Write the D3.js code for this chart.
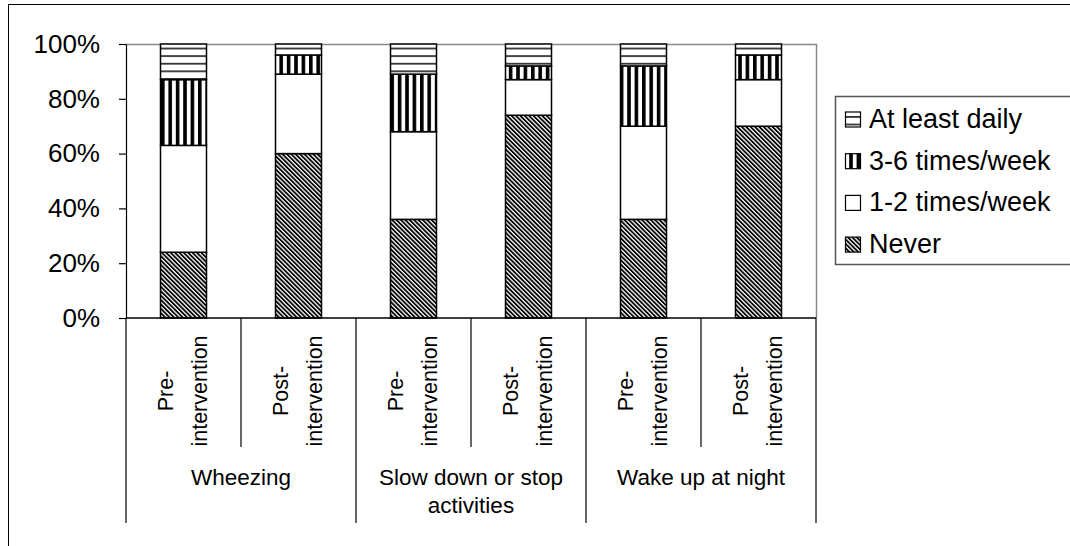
<!DOCTYPE html>
<html>
<head>
<meta charset="utf-8">
<script src="https://cdn.jsdelivr.net/npm/d3@7"></script>
<style>
  html, body { margin: 0; padding: 0; background: #fff; }
  svg { display: block; font-family: "Liberation Sans", Arial, sans-serif; }
</style>
</head>
<body>
<svg id="chart" width="1070" height="546"></svg>
<script>
// ---- data ----
const groups = ["Wheezing", "Slow down or stop activities", "Wake up at night"];
const groupLines = [["Wheezing"], ["Slow down or stop", "activities"], ["Wake up at night"]];
const phases = ["Pre-intervention", "Post-intervention"];
const phaseLines = [["Pre-", "intervention"], ["Post-", "intervention"]];
const seriesNames = ["Never", "1-2 times/week", "3-6 times/week", "At least daily"];
const never   = [24, 60, 36, 74, 36, 70];
const oneTwo  = [39, 29, 32, 13, 34, 17];
const threeSix = [24, 7, 21, 5, 22, 9];
const daily   = [13, 4, 11, 8, 8, 4];
const yTicks = [0, 20, 40, 60, 80, 100];

// ---- build table ----
const rows = [];
groups.forEach((g, gi) => phases.forEach((p, pi) => {
  const i = gi * 2 + pi;
  rows.push({ id: g + "|" + p, group: gi, phase: pi,
    "Never": never[i], "1-2 times/week": oneTwo[i],
    "3-6 times/week": threeSix[i], "At least daily": daily[i] });
}));

const svg = d3.select("#chart");
const L = 126, R = 816, T = 44, B = 318;

// ---- patterns ----
const defs = svg.append("defs");
const pDiag = defs.append("pattern").attr("id", "p-never").attr("patternUnits", "userSpaceOnUse")
  .attr("width", 3.1).attr("height", 10).attr("patternTransform", "rotate(-45)");
pDiag.append("rect").attr("width", 3.1).attr("height", 10).attr("fill", "#fff");
pDiag.append("rect").attr("width", 1.8).attr("height", 10).attr("fill", "#000");
const pVert = defs.append("pattern").attr("id", "p-36").attr("patternUnits", "userSpaceOnUse")
  .attr("width", 7.4).attr("height", 10).attr("x", 161);
pVert.append("rect").attr("width", 7.4).attr("height", 10).attr("fill", "#fff");
pVert.append("rect").attr("width", 3.6).attr("height", 10).attr("fill", "#000");
const pHor = defs.append("pattern").attr("id", "p-daily").attr("patternUnits", "userSpaceOnUse")
  .attr("width", 10).attr("height", 7.6).attr("y", 2);
pHor.append("rect").attr("width", 10).attr("height", 7.6).attr("fill", "#fff");
pHor.append("rect").attr("width", 10).attr("height", 1.8).attr("fill", "#333");

const fills = { "Never": "url(#p-never)", "1-2 times/week": "#fff",
  "3-6 times/week": "url(#p-36)", "At least daily": "url(#p-daily)" };

// ---- outer frame ----
svg.append("rect").attr("x", 8.5).attr("y", 4.5).attr("width", 1080).attr("height", 560)
  .attr("fill", "none").attr("stroke", "#000").attr("stroke-width", 1);

// ---- scales ----
const x = d3.scaleBand().domain(rows.map(d => d.id)).range([L, R]).paddingInner(0.6).paddingOuter(0.3);
const y = d3.scaleLinear().domain([0, 100]).range([B, T]);

// plot area border (top/right gray)
svg.append("path").attr("d", `M${L},${T + 0.5}H${R + 0.5}V${B}`)
  .attr("fill", "none").attr("stroke", "#888").attr("stroke-width", 1.5);

// ---- bars ----
const stack = d3.stack().keys(seriesNames)(rows);
svg.append("g").selectAll("g").data(stack).join("g")
  .attr("fill", d => fills[d.key])
  .selectAll("rect").data(d => d).join("rect")
  .attr("x", d => x(d.data.id))
  .attr("width", x.bandwidth())
  .attr("y", d => y(d[1]))
  .attr("height", d => y(d[0]) - y(d[1]))
  .attr("stroke", "#000").attr("stroke-width", 1.5);

// ---- y axis ----
const yAxis = svg.append("g").attr("transform", `translate(${L},0)`)
  .call(d3.axisLeft(y).tickValues(yTicks).tickFormat(d => d + "%").tickSize(7).tickSizeOuter(0).tickPadding(19));
yAxis.selectAll("text").attr("font-size", 26).attr("fill", "#000")
  .attr("font-family", "Liberation Sans, Arial, sans-serif");
yAxis.selectAll("line, path").attr("stroke", "#000").attr("stroke-width", 1.2);

// ---- category axis ----
const catG = svg.append("g");
catG.append("line").attr("x1", L).attr("x2", R).attr("y1", B).attr("y2", B)
  .attr("stroke", "#000").attr("stroke-width", 1.5);
const step = x.step();
const boundaries = d3.range(rows.length + 1).map(i => L + i * step);
boundaries.forEach((bx, i) => {
  catG.append("line").attr("x1", bx).attr("x2", bx).attr("y1", B)
    .attr("y2", i % 2 === 0 ? 523 : 447)
    .attr("stroke", "#000").attr("stroke-width", 1.2);
});
rows.forEach(d => {
  const cx = x(d.id) + x.bandwidth() / 2;
  const t = catG.append("text")
    .attr("transform", `translate(${cx},391) rotate(-90)`)
    .attr("text-anchor", "middle").attr("font-size", 21.5).attr("fill", "#000");
  t.append("tspan").attr("x", 0).attr("y", -10.5).text(phaseLines[d.phase][0]);
  t.append("tspan").attr("x", 0).attr("y", 23).text(phaseLines[d.phase][1]);
});
groupLines.forEach((lines, gi) => {
  const cx = L + (gi * 2 + 1) * step;
  const t = catG.append("text").attr("text-anchor", "middle").attr("font-size", 22.5).attr("fill", "#000");
  lines.forEach((ln, li) => t.append("tspan").attr("x", cx).attr("y", 485 + li * 28).text(ln));
});

// ---- legend ----
const leg = svg.append("g");
leg.append("rect").attr("x", 835.5).attr("y", 96.5).attr("width", 260).attr("height", 168)
  .attr("fill", "#fff").attr("stroke", "#555").attr("stroke-width", 1.5);
const legOrder = seriesNames.slice().reverse();
legOrder.forEach((k, i) => {
  const base = 128 + i * 41.7;
  leg.append("rect").attr("x", 845.5).attr("y", base - 16).attr("width", 15).attr("height", 15)
    .attr("fill", fills[k]).attr("stroke", "#000").attr("stroke-width", 1.2);
  leg.append("text").attr("x", 869).attr("y", base).attr("font-size", 27).attr("fill", "#000").text(k);
});
</script>
</body>
</html>
